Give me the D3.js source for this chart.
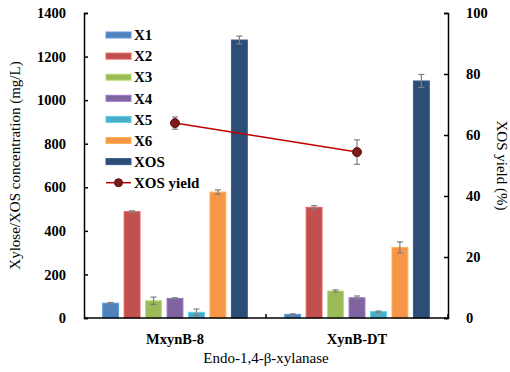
<!DOCTYPE html>
<html>
<head>
<meta charset="utf-8">
<script src="https://cdn.jsdelivr.net/npm/d3@7"></script>
<style>
  body { margin: 0; background: #fff; }
</style>
</head>
<body>
<div id="chart"></div>
<script>
  var width = 510,
      height = 372;

  var margin = { top: 13, right: 62, bottom: 54, left: 84 };
  var serif = "'Liberation Serif', 'Times New Roman', serif";

  // data
  const enzymes = ["MxynB-8", "XynB-DT"];
  const products = ["X1", "X2", "X3", "X4", "X5", "X6", "XOS"];
  const productColors = ["#4f81bd", "#c0504d", "#9bbb59", "#8064a2", "#4bacc6", "#f79646", "#2c4d75"];
  const mxynValues = [68, 488, 79, 90, 26, 578, 1276];
  const mxynErrors = [3, 4, 17, 3, 15, 10, 18];
  const xynValues = [17, 508, 124, 93, 29, 324, 1088];
  const xynErrors = [2, 8, 5, 8, 3, 25, 30];
  const yieldValues = [63.9, 54.4];
  const yieldErrors = [2, 4];
  const leftTicks = [0, 200, 400, 600, 800, 1000, 1200, 1400];
  const rightTicks = [0, 20, 40, 60, 80, 100];

  var chartWidth = width - margin.left - margin.right,
      chartHeight = height - margin.top - margin.bottom;

  var svg = d3.select("#chart").append("svg")
      .attr("width", width)
      .attr("height", height)
      .attr("font-family", serif)
    .append("g")
      .attr("transform", "translate(" + margin.left + "," + margin.top + ")");

  var x0 = d3.scaleBand()
      .domain(enzymes)
      .range([0, chartWidth]);

  var x1 = d3.scaleBand()
      .domain(products)
      .range([18.7, x0.bandwidth() - 18.7])
      .paddingInner(0.26);

  var y = d3.scaleLinear()
      .domain([0, 1400])
      .range([chartHeight, 0]);

  var y2 = d3.scaleLinear()
      .domain([0, 100])
      .range([chartHeight, 0]);

  var color = d3.scaleOrdinal()
      .domain(products)
      .range(productColors);

  const series = [
    { enzyme: enzymes[0], values: mxynValues, errors: mxynErrors },
    { enzyme: enzymes[1], values: xynValues, errors: xynErrors }
  ];

  var bars = series.flatMap(s => products.map((p, i) => ({
    enzyme: s.enzyme, key: p, value: s.values[i], err: s.errors[i]
  })));

  // bars
  svg.append("g")
    .selectAll("rect")
    .data(bars)
    .join("rect")
      .attr("x", d => x0(d.enzyme) + x1(d.key))
      .attr("y", d => y(d.value))
      .attr("width", x1.bandwidth())
      .attr("height", d => chartHeight - y(d.value))
      .attr("fill", d => color(d.key))
      .attr("stroke", d => d3.color(color(d.key)).brighter(0.5))
      .attr("stroke-width", 1);

  // bar error bars
  var errG = svg.append("g")
      .attr("stroke", "#7f7f7f")
      .attr("stroke-width", 1.2);

  errG.selectAll("line.v")
    .data(bars)
    .join("line")
      .attr("class", "v")
      .attr("x1", d => x0(d.enzyme) + x1(d.key) + x1.bandwidth() / 2)
      .attr("x2", d => x0(d.enzyme) + x1(d.key) + x1.bandwidth() / 2)
      .attr("y1", d => y(d.value + d.err))
      .attr("y2", d => y(Math.max(0, d.value - d.err)));

  errG.selectAll("line.cap")
    .data(bars.flatMap(d => [{ d: d, v: d.value + d.err }, { d: d, v: Math.max(0, d.value - d.err) }]))
    .join("line")
      .attr("class", "cap")
      .attr("x1", c => x0(c.d.enzyme) + x1(c.d.key) + x1.bandwidth() / 2 - 3)
      .attr("x2", c => x0(c.d.enzyme) + x1(c.d.key) + x1.bandwidth() / 2 + 3)
      .attr("y1", c => y(c.v))
      .attr("y2", c => y(c.v));

  // XOS yield line
  var yieldData = enzymes.map((e, i) => ({ enzyme: e, value: yieldValues[i], err: yieldErrors[i] }));
  var cx = d => x0(d.enzyme) + x0.bandwidth() / 2;

  var line = d3.line()
      .x(cx)
      .y(d => y2(d.value));

  svg.append("path")
      .datum(yieldData)
      .attr("d", line)
      .attr("fill", "none")
      .attr("stroke", "#c00000")
      .attr("stroke-width", 1.5);

  var yErr = svg.append("g")
      .attr("stroke", "#7f7f7f")
      .attr("stroke-width", 1.2);

  yErr.selectAll("line.v")
    .data(yieldData)
    .join("line")
      .attr("class", "v")
      .attr("x1", cx).attr("x2", cx)
      .attr("y1", d => y2(d.value + d.err))
      .attr("y2", d => y2(d.value - d.err));

  yErr.selectAll("line.cap")
    .data(yieldData.flatMap(d => [{ d: d, v: d.value + d.err }, { d: d, v: d.value - d.err }]))
    .join("line")
      .attr("class", "cap")
      .attr("x1", c => cx(c.d) - 3)
      .attr("x2", c => cx(c.d) + 3)
      .attr("y1", c => y2(c.v))
      .attr("y2", c => y2(c.v));

  svg.append("g")
    .selectAll("circle")
    .data(yieldData)
    .join("circle")
      .attr("cx", cx)
      .attr("cy", d => y2(d.value))
      .attr("r", 4.5)
      .attr("fill", "#7b1c1c")
      .attr("stroke", "#5a1212")
      .attr("stroke-width", 1);

  // axes
  var yAxis = d3.axisLeft(y)
      .tickValues(leftTicks)
      .tickFormat(d3.format("d"))
      .tickSize(-4)
      .tickPadding(18);

  var y2Axis = d3.axisRight(y2)
      .tickValues(rightTicks)
      .tickFormat(d3.format("d"))
      .tickSize(-4)
      .tickPadding(18);

  var xAxis = d3.axisBottom(x0)
      .tickSize(-4)
      .tickPadding(16);

  function styleAxis(g) {
    g.attr("font-family", serif).attr("font-size", null);
    g.select(".domain").attr("stroke", "#000").attr("stroke-width", 1.5);
    g.selectAll(".tick line").attr("stroke", "#000").attr("stroke-width", 1.5);
    g.selectAll(".tick text")
      .attr("fill", "#000")
      .attr("font-size", "14.5px")
      .attr("font-weight", "bold");
  }

  svg.append("g")
      .call(yAxis)
      .call(styleAxis);

  svg.append("g")
      .attr("transform", "translate(" + chartWidth + ",0)")
      .call(y2Axis)
      .call(styleAxis);

  svg.append("g")
      .attr("transform", "translate(0," + chartHeight + ")")
      .call(xAxis)
      .call(styleAxis)
      .call(g => g.select(".domain").attr("d", "M0,0H" + chartWidth))
      .call(g => g.selectAll(".tick line").attr("transform", "translate(" + x0.bandwidth() / 2 + ",0)"));

  // axis titles
  svg.append("text")
      .attr("transform", "translate(-64," + chartHeight / 2 + ") rotate(-90)")
      .attr("text-anchor", "middle")
      .attr("font-size", "15px")
      .text("Xylose/XOS concentration (mg/L)");

  svg.append("text")
      .attr("transform", "translate(" + (chartWidth + 49) + "," + chartHeight / 2 + ") rotate(90)")
      .attr("text-anchor", "middle")
      .attr("font-size", "15px")
      .text("XOS yield (%)");

  svg.append("text")
      .attr("x", chartWidth / 2)
      .attr("y", chartHeight + 45)
      .attr("text-anchor", "middle")
      .attr("font-size", "15px")
      .text("Endo-1,4-β-xylanase");

  // legend
  var legendItems = products.map(p => ({ label: p, type: "bar" }))
      .concat([{ label: "XOS yield", type: "line" }]);

  var legend = svg.append("g")
      .attr("transform", "translate(22,22)");

  var item = legend.selectAll("g")
    .data(legendItems)
    .join("g")
      .attr("transform", (d, i) => "translate(0," + i * 21.1 + ")");

  item.filter(d => d.type == "bar").append("rect")
      .attr("x", 0)
      .attr("y", -3)
      .attr("width", 25)
      .attr("height", 6)
      .attr("fill", d => color(d.label))
      .attr("stroke", d => d3.color(color(d.label)).brighter(0.5));

  var lineItem = item.filter(d => d.type == "line");
  lineItem.append("line")
      .attr("x1", 0).attr("x2", 25)
      .attr("stroke", "#c00000")
      .attr("stroke-width", 1.5);
  lineItem.append("circle")
      .attr("cx", 12.5)
      .attr("r", 4)
      .attr("fill", "#7b1c1c")
      .attr("stroke", "#5a1212");

  item.append("text")
      .attr("x", 28)
      .attr("dy", "0.35em")
      .attr("font-size", "15px")
      .attr("font-weight", "bold")
      .text(d => d.label);
</script>
</body>
</html>
